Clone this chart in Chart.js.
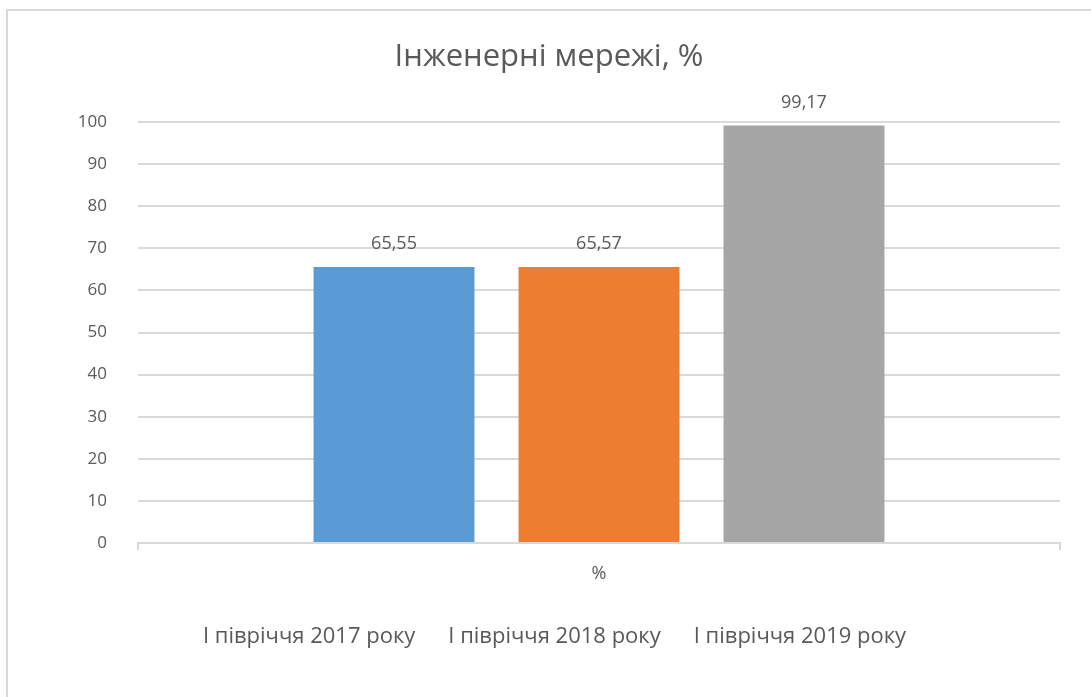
<!DOCTYPE html>
<html>
<head>
<meta charset="utf-8">
<script src="https://cdn.jsdelivr.net/npm/chart.js@4.4.1/dist/chart.umd.min.js"></script>
<style>
  html, body { margin: 0; padding: 0; background: #ffffff; overflow: hidden; }
  #frame { position: absolute; left: 6px; top: 9px; width: 1120px; height: 720px; border: 2px solid #d9d9d9; box-sizing: border-box; }
  #wrap { position: absolute; left: 0; top: 0; width: 1091px; height: 697px; }
</style>
</head>
<body>
<div id="frame"></div>
<div id="wrap"><canvas id="c" width="1091" height="697"></canvas></div>
<script>
const categories = ['%'];
const seriesNames = ['І півріччя 2017 року', 'І півріччя 2018 року', 'І півріччя 2019 року'];
const values2017 = [65.55];
const values2018 = [65.57];
const values2019 = [99.17];
const seriesColors = ['#5B9BD5', '#ED7D31', '#A5A5A5'];
const yTicks = [0, 10, 20, 30, 40, 50, 60, 70, 80, 90, 100];
const chartTitle = 'Інженерні мережі, %';

const FONT = "'Open Sans', 'Noto Sans', sans-serif";
const TXT = '#595959';

const valueLabels = {
  id: 'valueLabels',
  afterDatasetsDraw(chart) {
    const ctx = chart.ctx;
    ctx.save();
    ctx.font = '18px ' + FONT;
    ctx.fillStyle = TXT;
    ctx.textAlign = 'center';
    ctx.textBaseline = 'middle';
    chart.data.datasets.forEach((ds, i) => {
      chart.getDatasetMeta(i).data.forEach((bar, j) => {
        const v = ds.data[j];
        ctx.fillText(v.toFixed(2).replace('.', ','), bar.x, bar.y - 23);
      });
    });
    ctx.restore();
  }
};

new Chart(document.getElementById('c'), {
  type: 'bar',
  data: {
    labels: categories,
    datasets: [
      { label: seriesNames[0], data: values2017, backgroundColor: seriesColors[0] },
      { label: seriesNames[1], data: values2018, backgroundColor: seriesColors[1] },
      { label: seriesNames[2], data: values2019, backgroundColor: seriesColors[2] }
    ]
  },
  options: {
    responsive: false,
    animation: false,
    devicePixelRatio: 1,
    categoryPercentage: 0.667,
    barPercentage: 0.785,
    layout: { padding: { left: 38, right: 31, top: 0, bottom: 39 } },
    plugins: {
      title: {
        display: true,
        text: chartTitle,
        color: TXT,
        font: { family: FONT, size: 31, weight: 'normal', lineHeight: 1.2 },
        padding: { top: 38.4, bottom: 46.4 }
      },
      legend: {
        display: true,
        position: 'bottom',
        labels: {
          color: TXT,
          font: { family: FONT, size: 22 },
          boxWidth: 0,
          boxHeight: 0,
          padding: 22,
          generateLabels(chart) {
            return chart.data.datasets.map((ds, i) => ({
              text: ds.label,
              fillStyle: 'rgba(0,0,0,0)',
              strokeStyle: 'rgba(0,0,0,0)',
              lineWidth: 0,
              hidden: false,
              datasetIndex: i,
              fontColor: TXT
            }));
          }
        }
      },
      tooltip: { enabled: false }
    },
    scales: {
      x: {
        offset: true,
        grid: { display: true, offset: true, drawOnChartArea: false, drawTicks: true, tickLength: 7, color: '#d9d9d9', lineWidth: 2 },
        border: { display: true, color: '#d9d9d9', width: 2 },
        ticks: { color: TXT, font: { family: FONT, size: 18 }, padding: 13 },
        afterFit(scale) { scale.height = 61; }
      },
      y: {
        min: 0,
        max: 100,
        afterBuildTicks(scale) { scale.ticks = yTicks.map(v => ({ value: v })); },
        grid: { color: '#d9d9d9', lineWidth: 2, drawTicks: false },
        border: { display: false },
        ticks: { color: TXT, font: { family: FONT, size: 17 }, padding: 31 },
        afterFit(scale) { scale.width = 100; }
      }
    }
  },
  plugins: [valueLabels]
});
</script>
</body>
</html>
